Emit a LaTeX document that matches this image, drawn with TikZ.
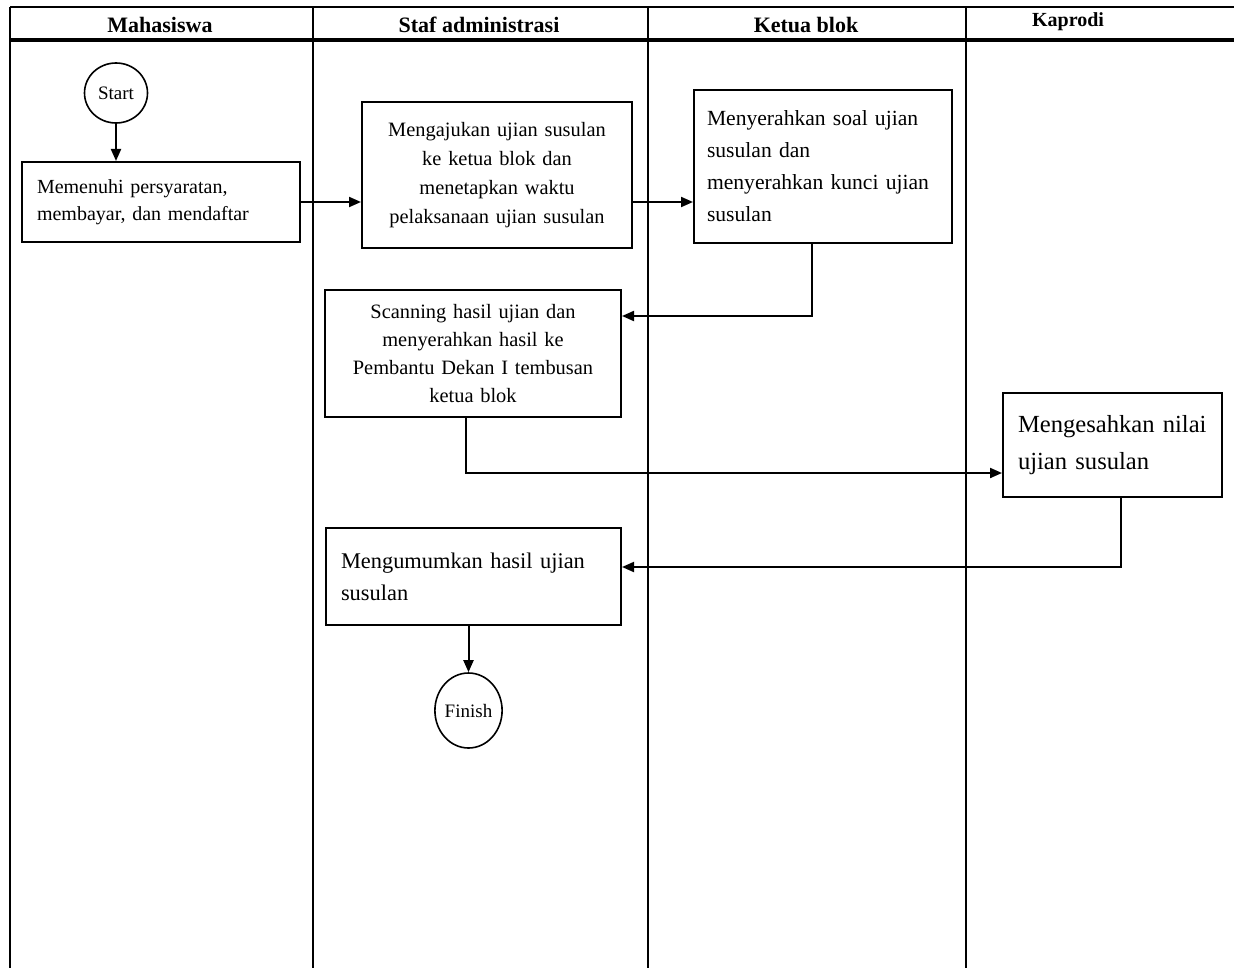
\documentclass[tikz,border=0pt]{standalone}
\usepackage{fontspec}
\setmainfont{Liberation Serif}
\usetikzlibrary{arrows.meta,shapes.geometric}
\begin{document}
\begin{tikzpicture}[x=0.5pt,y=-0.5pt,
  lane/.style={line width=1pt},
  hdr/.style={font=\fontsize{11}{13}\selectfont\bfseries, inner sep=0pt},
  proc/.style={draw, line width=1pt, inner ysep=0pt},
  term/.style={draw, ellipse, line width=0.8pt, inner sep=0pt},
  flow/.style={line width=1pt, -{Triangle[length=6pt,width=5pt]}},
]
\useasboundingbox (0,0) rectangle (1234,968);
% swimlane frame
\coordinate (tl) at (10,7);
\coordinate (tr) at (1234,7);
\coordinate (hl) at (10,40);
\coordinate (hr) at (1234,40);
\draw[lane] (tl) -- (tr);
\draw[line width=1.6pt] (hl) -- (hr);
\coordinate (l0t) at (10,7);   \coordinate (l0b) at (10,968);
\coordinate (l1t) at (313,7);  \coordinate (l1b) at (313,968);
\coordinate (l2t) at (648,7);  \coordinate (l2b) at (648,968);
\coordinate (l3t) at (966,7);  \coordinate (l3b) at (966,968);
\draw[lane] (l0t) -- (l0b);
\draw[lane] (l1t) -- (l1b);
\draw[lane] (l2t) -- (l2b);
\draw[lane] (l3t) -- (l3b);
% headers
\node[hdr] (h1) at (160,25) {Mahasiswa};
\node[hdr] (h2) at (479,25) {Staf administrasi};
\node[hdr] (h3) at (806,25) {Ketua blok};
\node[hdr, font=\fontsize{10}{12}\selectfont\bfseries] (h4) at (1068,22) {Kaprodi};
% terminals
\node[term, minimum width=31.5pt, minimum height=30pt, font=\fontsize{9.5}{11}\selectfont] (start) at (116,93) {Start};
\node[term, minimum width=31.5pt, minimum height=37.5pt, font=\fontsize{9.5}{11}\selectfont] (finish) at (468.5,710.5) {Finish};
% process boxes
\node[proc, minimum width=139pt, minimum height=40pt, inner xsep=7.5pt, text width=124pt, align=left,
      font=\fontsize{10}{13.5}\selectfont] (b1) at (161,202)
  {Memenuhi persyaratan,\\membayar, dan mendaftar};
\node[proc, minimum width=135pt, minimum height=73pt, inner xsep=5pt, text width=125pt, align=center,
      font=\fontsize{10.2}{14.5}\selectfont] (b2) at (497,175)
  {Mengajukan ujian susulan\\ke ketua blok dan\\menetapkan waktu\\pelaksanaan ujian susulan};
\node[proc, minimum width=129pt, minimum height=76.5pt, inner xsep=6.5pt, text width=116pt, align=left,
      font=\fontsize{10.8}{16}\selectfont] (b3) at (823,166.5)
  {Menyerahkan soal ujian\\susulan dan\\menyerahkan kunci ujian\\susulan};
\node[proc, minimum width=148pt, minimum height=63.5pt, inner xsep=5pt, text width=138pt, align=center,
      font=\fontsize{10.2}{14}\selectfont] (b4) at (473,353.5)
  {Scanning hasil ujian dan\\menyerahkan hasil ke\\Pembantu Dekan I tembusan\\ketua blok};
\node[proc, minimum width=109.5pt, minimum height=52pt, inner xsep=7.5pt, text width=94.5pt, align=left,
      font=\fontsize{12.3}{18.5}\selectfont] (b5) at (1112.5,445)
  {Mengesahkan nilai\\ujian susulan\\[3pt]};
\node[proc, minimum width=147.5pt, minimum height=48.5pt, inner xsep=7.5pt, text width=132.5pt, align=left,
      font=\fontsize{11.2}{16}\selectfont] (b6) at (473.5,576.5)
  {Mengumumkan hasil ujian\\susulan\\[7pt]};
% connectors
\draw[flow] (start.south) -- (start.south |- b1.north);
\draw[flow] (b1.east) -- (b1.east -| b2.west);
\draw[flow] (b2.east |- b1.east) -- (b3.west |- b1.east);
\draw[flow] ([xshift=-5.5pt]b3.south) |- ([yshift=18.75pt]b4.east);
\draw[flow] ([xshift=-3.5pt]b4.south) |- ([yshift=-14pt]b5.west);
\draw[flow] ([xshift=4.25pt]b5.south) |- ([yshift=4.75pt]b6.east);
\draw[flow] (b6.south -| finish.north) -- (finish.north);
\end{tikzpicture}
\end{document}
